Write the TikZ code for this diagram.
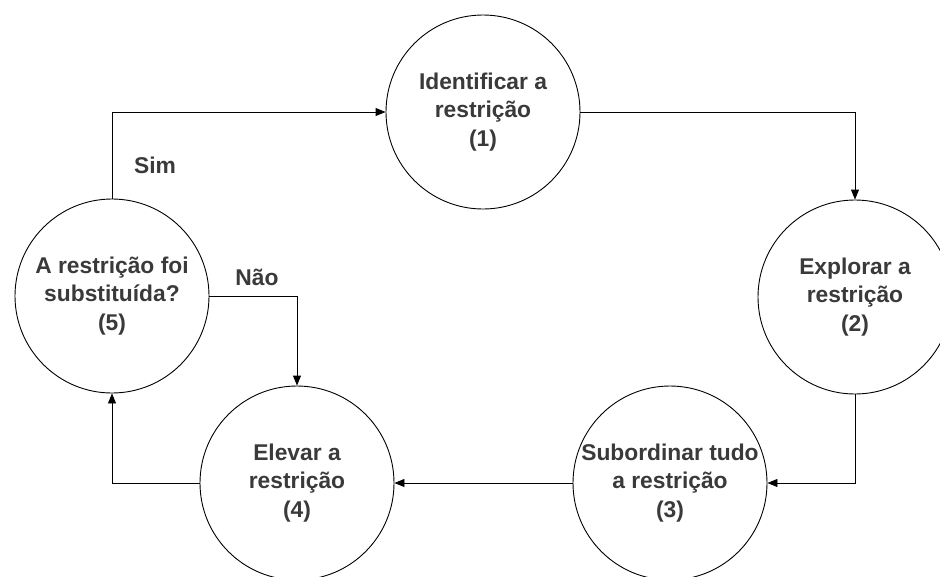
\documentclass[tikz,border=0pt]{standalone}
\usepackage{fontspec}
\setmainfont{Liberation Sans}
\usetikzlibrary{arrows.meta}
\definecolor{txt}{HTML}{3A3A3A}
\tikzset{
  stage/.style={circle, draw=black, line width=0.9pt, minimum size=194pt, inner sep=0pt,
    align=center, text=txt, font=\fontsize{22.8}{28.5}\selectfont\bfseries},
  lbl/.style={text=txt, font=\fontsize{22.8}{28.5}\selectfont\bfseries, inner sep=0pt},
  flow/.style={draw=black, line width=0.9pt, -{Triangle[length=10pt,width=8pt]}}
}
\begin{document}
\begin{tikzpicture}[x=1pt,y=-1pt]
\useasboundingbox (0,0) rectangle (940,576);
\clip (0,0) rectangle (940,576);
\fill[white] (0,0) rectangle (940,576);
\node[stage] (c1) at (483,112) {Identificar a\\restrição\\(1)};
\node[stage] (c2) at (855,297) {Explorar a\\restrição\\(2)};
\node[stage] (c3) at (670,483) {Subordinar tudo\\a restrição\\(3)};
\node[stage] (c4) at (297,483) {Elevar a\\restrição\\(4)};
\node[stage] (c5) at (112,296) {A restrição foi\\substituída?\\(5)};
\node[lbl] (sim) at (155,165) {Sim};
\node[lbl] (nao) at (257,277) {Não};
\draw[flow] (c1.east) -| (c2.north);
\draw[flow] (c2.south) |- (c3.east);
\draw[flow] (c3.west) -- (c4.east);
\draw[flow] (c4.west) -| (c5.south);
\draw[flow] (c5.north) |- (c1.west);
\draw[flow] (c5.east) -| (c4.north);
\end{tikzpicture}
\end{document}
